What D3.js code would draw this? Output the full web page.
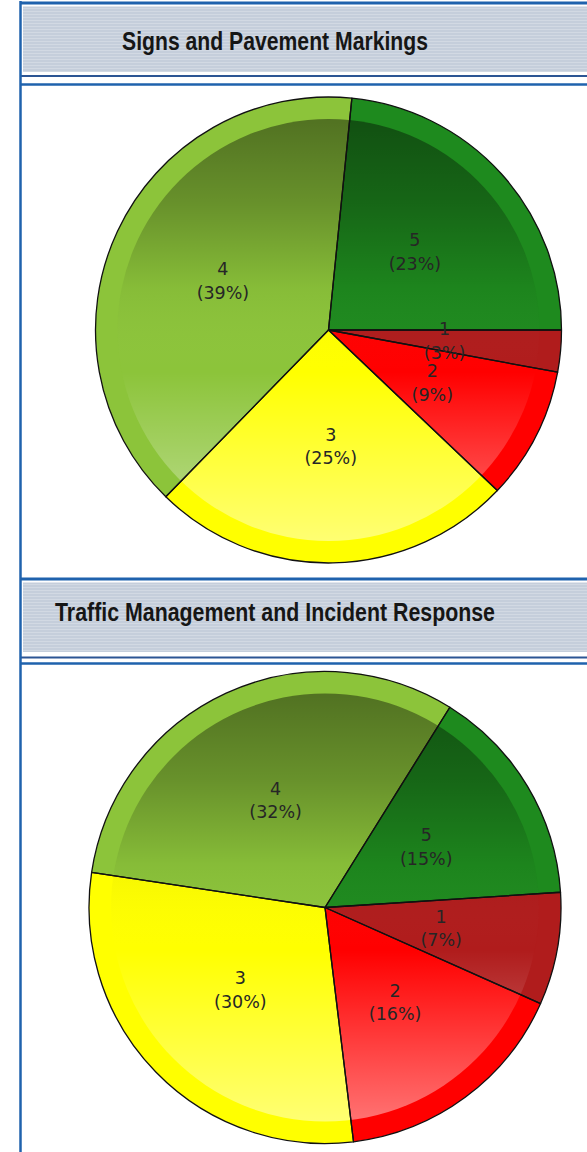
<!DOCTYPE html>
<html>
<head>
<meta charset="utf-8">
<script src="https://cdn.jsdelivr.net/npm/d3@7"></script>
<style>
  body { margin: 0; background: #fff; }
  svg { display: block; }
</style>
</head>
<body>
<script>
// ratings 1..5, drawn clockwise
const ratings = ["1", "2", "3", "4", "5"];
const sliceColors = ["#b01c1c", "#ff0000", "#ffff00", "#8cc43a", "#1e8a1e"];

// chart 1: Signs and Pavement Markings
const signsShare = [2.9, 9.2, 25.2, 39.3, 23.4];
const signsPct   = [3, 9, 25, 39, 23];

// chart 2: Traffic Management and Incident Response
const trafficShare = [7.7, 16.4, 29.3, 31.5, 15.1];
const trafficPct   = [7, 16, 30, 32, 15];

const titles = ["Signs and Pavement Markings", "Traffic Management and Incident Response"];

const W = 587, H = 1152;
const blue = "#1f62ad", navy = "#2c5594";

const svg = d3.select("body").append("svg")
    .attr("width", W)
    .attr("height", H);

const defs = svg.append("defs");

// striped header background
let pat = defs.append("pattern")
    .attr("id", "stripes")
    .attr("patternUnits", "userSpaceOnUse")
    .attr("width", 8).attr("height", 3);
pat.append("rect").attr("width", 8).attr("height", 3).attr("fill", "#c5cedb");
pat.append("rect").attr("y", 2).attr("width", 8).attr("height", 1).attr("fill", "#d2d9e3");

// shading over the inner part of each pie: dark at the top, light at the bottom
let grad = defs.append("linearGradient")
    .attr("id", "shade")
    .attr("x1", 0).attr("y1", 0).attr("x2", 0).attr("y2", 1);
[[0, "#000", 0.42], [0.2, "#000", 0.26], [0.4, "#000", 0.04], [0.6, "#fff", 0], [1, "#fff", 0.45]].forEach(s => {
  grad.append("stop")
      .attr("offset", s[0])
      .attr("stop-color", s[1])
      .attr("stop-opacity", s[2]);
});

const panels = [
  {title: titles[0], share: signsShare, pct: signsPct, start: 90,
   top: 2, headBot: 72, lineA: 76, lineB: 84.5, titleY: 50, titleW: 306,
   cx: 328.5, cy: 330, r: 233},
  {title: titles[1], share: trafficShare, pct: trafficPct, start: 86.3,
   top: 578, headBot: 652, lineA: 657.5, lineB: 663.5, titleY: 621, titleW: 440,
   cx: 325, cy: 907.5, r: 236}
];

function drawHeader(p) {
  svg.append("rect")
      .attr("x", 23).attr("y", p.top + 4.5)
      .attr("width", W - 23).attr("height", p.headBot - p.top - 4.5)
      .attr("fill", "url(#stripes)");
  svg.append("line")
      .attr("x1", 20).attr("x2", W)
      .attr("y1", p.top + 1).attr("y2", p.top + 1)
      .attr("stroke", blue).attr("stroke-width", 3);
  svg.append("line")
      .attr("x1", 20).attr("x2", W)
      .attr("y1", p.lineA).attr("y2", p.lineA)
      .attr("stroke", navy).attr("stroke-width", 2);
  svg.append("line")
      .attr("x1", 20).attr("x2", W)
      .attr("y1", p.lineB).attr("y2", p.lineB)
      .attr("stroke", blue).attr("stroke-width", 2.5);
  svg.append("text")
      .attr("x", 275).attr("y", p.titleY)
      .attr("text-anchor", "middle")
      .attr("font-family", "Liberation Sans, Arial, sans-serif")
      .attr("font-weight", "bold")
      .attr("font-size", 25)
      .attr("fill", "#161616")
      .attr("textLength", p.titleW)
      .attr("lengthAdjust", "spacingAndGlyphs")
      .text(p.title);
}

function drawPie(p) {
  let g = svg.append("g")
      .attr("transform", `translate(${p.cx}, ${p.cy})`);
  let a0 = p.start * Math.PI / 180;
  let pie = d3.pie().sort(null).startAngle(a0).endAngle(a0 + 2 * Math.PI);
  let arcs = pie(p.share);
  let inner = p.r - 22;

  let outerArc = d3.arc().innerRadius(0).outerRadius(p.r);
  let innerArc = d3.arc().innerRadius(0).outerRadius(inner);

  // rim in base colour
  g.selectAll("path.rim")
    .data(arcs)
    .enter().append("path")
      .attr("class", "rim")
      .attr("d", outerArc)
      .attr("fill", (d, i) => sliceColors[i]);

  // shaded inner disc
  g.selectAll("path.inner")
    .data(arcs)
    .enter().append("path")
      .attr("class", "inner")
      .attr("d", innerArc)
      .attr("fill", (d, i) => sliceColors[i]);
  g.append("circle")
      .attr("r", inner)
      .attr("fill", "url(#shade)");

  // slice outlines
  g.selectAll("path.edge")
    .data(arcs)
    .enter().append("path")
      .attr("class", "edge")
      .attr("d", outerArc)
      .attr("fill", "none")
      .attr("stroke", "#111")
      .attr("stroke-width", 1.3)
      .attr("stroke-linejoin", "round");

  // labels, two lines at the slice centroid
  let lab = g.selectAll("text.lab")
    .data(arcs)
    .enter().append("text")
      .attr("class", "lab")
      .attr("text-anchor", "middle")
      .attr("font-family", "DejaVu Sans, Verdana, sans-serif")
      .attr("font-size", 17.5)
      .attr("fill", "#262626")
      .attr("transform", d => `translate(${outerArc.centroid(d)})`);
  lab.append("tspan")
      .attr("x", 0).attr("y", -5.5)
      .text((d, i) => ratings[i]);
  lab.append("tspan")
      .attr("x", 0).attr("y", 18)
      .text((d, i) => `(${p.pct[i]}%)`);
}

panels.forEach(p => {
  drawHeader(p);
  drawPie(p);
});

// left border of the panels
svg.append("line")
    .attr("x1", 20.5).attr("x2", 20.5)
    .attr("y1", 1).attr("y2", H)
    .attr("stroke", blue).attr("stroke-width", 2.5);
</script>
</body>
</html>
